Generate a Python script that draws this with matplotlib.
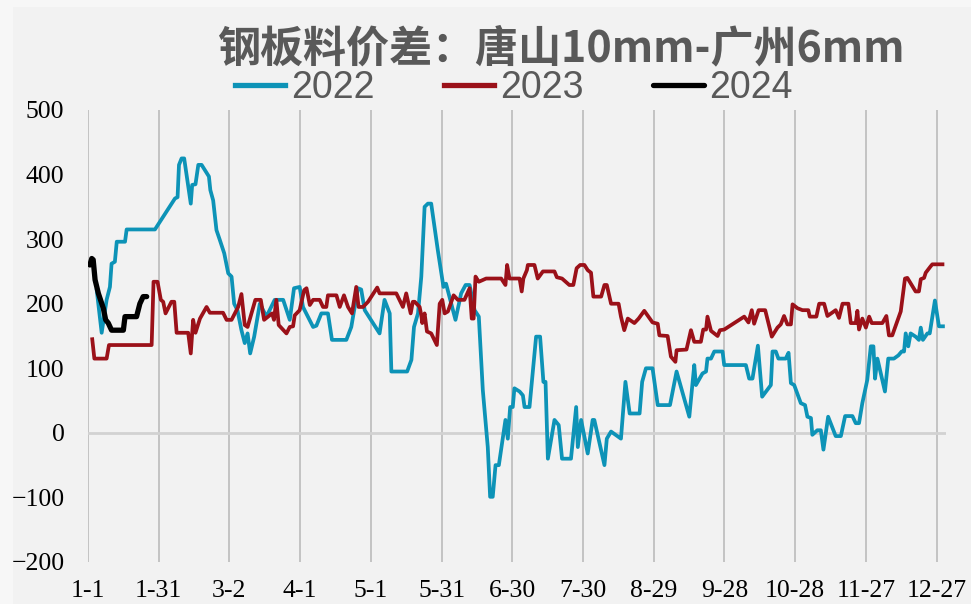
import matplotlib
matplotlib.use("Agg")
import matplotlib.pyplot as plt
from matplotlib.patches import Rectangle

# day of year (0 = Jan 1) and spread values
day_2022 = [3.7, 5.8, 7.9, 9.3, 10.0, 11.4, 12.2, 15.7, 16.4, 28.4, 36.9, 38.0, 38.6, 39.7, 40.8,
            43.6, 44.2, 45.6, 46.8, 48.2, 51.3, 51.9, 53.1, 54.5, 55.9, 57.8, 59.5, 60.9, 62.0,
            63.4, 65.1, 66.5, 67.7, 68.8, 70.5, 72.9, 75.7, 79.2, 82.8, 85.6, 87.4, 89.8, 91.2,
            95.5, 96.9, 99.0, 101.8, 103.5, 109.6, 111.7, 114.5, 115.9, 117.4, 123.7, 125.8,
            128.0, 128.7, 135.4, 137.2, 138.3, 140.0, 141.4, 142.8, 144.2, 145.6, 148.4, 150.8,
            151.9, 155.9, 158.3, 160.2, 161.9, 164.0, 165.8, 167.5, 169.6, 170.6, 171.7, 172.9,
            174.3, 177.1, 178.1, 179.1, 180.2, 180.9, 183.1, 184.5, 185.2, 187.3, 190.1, 191.8,
            193.2, 194.1, 195.1, 197.9, 199.7, 201.1, 204.9, 207.1, 207.8, 209.2, 212.0, 214.1,
            214.8, 219.1, 220.1, 221.9, 226.1, 228.0, 229.8, 234.0, 235.1, 236.7, 239.5, 241.7,
            246.9, 249.7, 255.1, 257.2, 257.9, 260.7, 262.2, 262.8, 264.3, 265.7, 269.2, 269.9,
            279.1, 280.5, 281.9, 284.2, 286.0, 289.7, 290.4, 291.8, 292.9, 296.0, 297.2, 298.2,
            299.6, 302.4, 304.2, 305.2, 306.7, 307.3, 309.4, 310.9, 312.0, 314.0, 317.2, 319.4,
            321.2, 324.3, 325.7, 327.1, 328.5, 330.6, 332.1, 333.2, 333.9, 334.9, 338.1, 339.5,
            341.9, 343.8, 345.2, 346.2, 346.9, 348.0, 349.0, 351.1, 352.5, 353.3, 354.2, 356.1,
            357.1, 359.3, 361.0, 362.7]
val_2022 = [221, 155, 206, 226, 262, 265, 296, 296, 315, 315, 363, 365, 415, 425, 425,
            355, 384, 385, 415, 415, 397, 376, 360, 314, 299, 278, 247, 242, 200,
            190, 159, 139, 154, 123, 149, 200, 180, 206, 206, 175, 224, 226, 195,
            164, 166, 185, 185, 144, 144, 164, 224, 222, 190, 154, 206,
            185, 95, 95, 113, 164, 185, 242, 350, 355, 355, 283, 226,
            231, 175, 216, 229, 229, 190, 180, 66, -22, -99, -99, -50,
            -50, 20, -9, 40, 40, 69, 64, 58, 40, 40, 149, 149,
            79, 79, -40, 20, 12, -40, -40, 40, -22, 20, -32, 20,
            20, -50, -9, 2, -9, 79, 30, 30, 79, 100, 100, 43,
            43, 95, 25, 105, 74, 92, 95, 115, 115, 126, 126, 105,
            105, 84, 84, 135, 56, 74, 126, 126, 115, 115, 124, 77,
            74, 46, 43, 25, 23, -3, 4, 4, -26, 25, -5, -5,
            26, 26, 15, 15, 46, 82, 134, 134, 84, 115, 64, 115,
            115, 120, 126, 126, 154, 134, 154, 149, 144, 163, 144, 154,
            154, 205, 165, 165]

day_2023 = [1.8, 2.7, 7.9, 8.9, 27.0, 27.8, 29.5, 30.9, 31.9, 32.9, 35.4, 36.6, 37.6, 42.5,
            43.6, 44.6, 45.6, 47.5, 50.3, 51.7, 57.3, 58.8, 60.9, 63.7, 65.1, 66.5, 67.7, 71.0,
            73.3, 74.7, 77.1, 78.1, 78.9, 79.9, 80.9, 84.2, 85.6, 87.0, 87.7, 89.8, 91.7, 92.7,
            94.1, 95.5, 98.3, 99.7, 101.1, 101.8, 105.4, 106.8, 108.6, 110.3, 112.0, 113.8,
            114.8, 116.7, 118.8, 122.7, 123.7, 130.8, 133.6, 135.0, 136.9, 137.8, 138.6, 140.7,
            141.4, 141.8, 142.8, 143.8, 145.6, 148.0, 149.2, 150.3, 151.3, 152.7, 155.1, 156.9,
            159.7, 161.9, 162.8, 163.6, 164.4, 165.8, 168.9, 175.3, 177.1, 177.8, 178.8, 183.1,
            184.0, 184.7, 186.2, 186.6, 189.4, 190.8, 193.0, 197.9, 198.9, 201.1, 204.2, 205.9,
            207.3, 208.8, 210.6, 212.0, 213.4, 214.4, 217.7, 219.1, 220.1, 221.9, 225.1, 226.1,
            227.5, 229.0, 231.8, 233.6, 236.0, 239.5, 241.7, 242.4, 245.9, 247.3, 249.2, 249.7,
            253.9, 255.8, 257.2, 260.0, 261.0, 262.2, 262.8, 264.3, 267.1, 268.1, 269.9, 278.4,
            280.2, 281.6, 282.6, 284.5, 287.3, 290.1, 292.5, 293.9, 295.3, 296.7, 298.2, 298.9,
            301.0, 303.1, 305.6, 306.2, 309.0, 310.2, 312.3, 313.7, 317.2, 318.6, 320.1, 322.6,
            323.6, 325.7, 326.4, 327.1, 328.5, 330.0, 331.4, 332.5, 337.0, 338.7, 339.8, 341.2,
            344.8, 346.6, 347.6, 351.1, 352.5, 353.3, 354.7, 355.4, 357.5, 358.2, 362.5]
val_2023 = [145, 115, 115, 136, 136, 234, 234, 206, 203, 185, 203, 203, 155, 155,
            123, 175, 155, 177, 195, 186, 186, 175, 175, 195, 215, 167, 164, 206,
            206, 175, 182, 185, 175, 206, 167, 154, 164, 165, 182, 190, 221, 224,
            198, 206, 206, 195, 195, 213, 213, 195, 213, 195, 185, 226,
            195, 195, 203, 225, 216, 216, 195, 216, 185, 203, 203, 195,
            182, 170, 185, 157, 154, 136, 200, 206, 185, 188, 213, 206,
            206, 224, 177, 177, 242, 234, 239, 239, 229, 260, 239, 239,
            219, 239, 252, 260, 260, 239, 250, 250, 241, 239, 229, 229,
            255, 260, 260, 252, 248, 211, 211, 229, 229, 200, 200, 180,
            159, 177, 170, 177, 189, 171, 169, 151, 150, 118, 110, 128,
            129, 159, 141, 141, 160, 160, 180, 158, 150, 159, 160, 180,
            171, 190, 169, 190, 190, 149, 163, 168, 181, 168, 168, 199,
            193, 190, 190, 180, 180, 200, 200, 181, 190, 178, 200, 200,
            170, 170, 189, 160, 177, 163, 180, 170, 170, 181, 151, 151,
            188, 239, 240, 219, 219, 238, 240, 248, 258, 261, 261]

day_2024 = [0.8, 1.6, 2.2, 3.0, 4.4, 6.5, 7.5, 8.6, 10.0, 15.0, 15.7, 20.6, 22.0, 23.4, 24.9]
val_2024 = [260, 270, 268, 237, 216, 193, 175, 170, 159, 159, 180, 180, 200, 211, 211]

tick_days = [0, 30, 60, 90, 120, 150, 180, 210, 240, 270, 300, 330, 360]
tick_labels = ['1-1', '1-31', '3-2', '4-1', '5-1', '5-31', '6-30', '7-30', '8-29',
               '9-28', '10-28', '11-27', '12-27']

fig = plt.figure(figsize=(9.71, 6.04), dpi=100, facecolor='#f7f7f7')
fig.patches.append(Rectangle((13 / 971, 0), 1, 1 - 7 / 604, transform=fig.transFigure,
                             facecolor='#f2f2f2', edgecolor='none', zorder=-1))

ax = fig.add_axes([88 / 971, 42 / 604, 858 / 971, 452 / 604])
ax.set_facecolor('#f2f2f2')
ax.patch.set_alpha(0)

for d in tick_days:
    ax.axvline(d, color='#c3c3c3', lw=1.4, zorder=1)
ax.axhline(0, color='#d2d2d2', lw=2, zorder=1)

ax.plot(day_2022, val_2022, color='#0d93b7', lw=2.7, label='2022', zorder=3)
ax.plot(day_2023, val_2023, color='#9b1119', lw=2.7, label='2023', zorder=3)
ax.plot(day_2024, val_2024, color='black', lw=3.8, label='2024', zorder=4,
        solid_capstyle='round', solid_joinstyle='round')

ax.set_xlim(0, 364)
ax.set_ylim(-200, 500)
ax.set_yticks(range(-200, 501, 100))
ax.set_xticks(tick_days)
ax.set_xticklabels(tick_labels)
for s in ax.spines.values():
    s.set_visible(False)
ax.tick_params(length=0, labelsize=18.5, colors='black')
ax.tick_params(axis='y', pad=17)
ax.tick_params(axis='x', pad=13)
for lab in ax.get_xticklabels() + ax.get_yticklabels():
    lab.set_fontfamily('Liberation Serif')

fig.text(0.578, 0.92, '钢板料价差：唐山10mm-广州6mm', ha='center', va='center',
         fontsize=31, fontweight='bold', color='#595959',
         family=['Noto Sans CJK SC', 'DejaVu Sans'])

leg = fig.legend(loc='center', bbox_to_anchor=(0.529, 0.854), ncol=3, frameon=False,
                 prop={'family': 'Liberation Sans', 'size': 27},
                 handlelength=1.35, handletextpad=0.15, columnspacing=1.85,
                 borderpad=0, labelcolor='#595959')
for h in leg.get_lines():
    h.set_linewidth(3.8)

fig.savefig('out.png', dpi=100, facecolor=fig.get_facecolor())
